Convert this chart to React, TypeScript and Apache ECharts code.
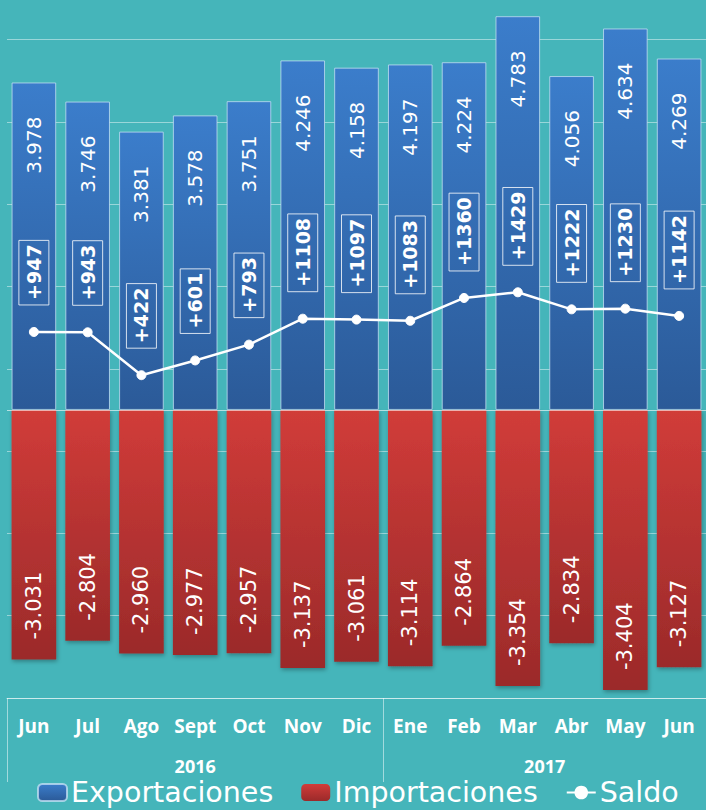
import React, { useEffect, useRef } from "react";
import * as echarts from "echarts";

const months = ["Jun", "Jul", "Ago", "Sept", "Oct", "Nov", "Dic", "Ene", "Feb", "Mar", "Abr", "May", "Jun"];
const years = ["2016", "2017"];
const yearSpans = [7, 6];
const exportaciones = [3978, 3746, 3381, 3578, 3751, 4246, 4158, 4197, 4224, 4783, 4056, 4634, 4269];
const importaciones = [-3031, -2804, -2960, -2977, -2957, -3137, -3061, -3114, -2864, -3354, -2834, -3404, -3127];
const saldo = [947, 943, 422, 601, 793, 1108, 1097, 1083, 1360, 1429, 1222, 1230, 1142];

const fmtThousands = (v: number) => {
  const s = Math.abs(v).toString();
  const t = s.replace(/\B(?=(\d{3})+(?!\d))/g, ".");
  return (v < 0 ? "-" : "") + t;
};

// year label centers / separators from spans
const yearBounds: number[] = [0];
yearSpans.forEach((s) => yearBounds.push(yearBounds[yearBounds.length - 1] + s));
const yearCenters = yearSpans.map((s, i) => yearBounds[i] + s / 2);

export default function App() {
  const ref = useRef<HTMLDivElement>(null);
  useEffect(() => {
    document.body.style.margin = "0";
    const chart = echarts.init(ref.current!, null, { renderer: "svg" });
    const lineLight = "rgba(255,255,255,0.5)";
    chart.setOption({
      animation: false,
      backgroundColor: "#45B5BA",
      textStyle: { fontFamily: "DejaVu Sans", color: "#fff" },
      grid: { left: 7, top: 0, width: 709, bottom: 112, containLabel: false },
      legend: {
        left: 37,
        top: 778,
        padding: 0,
        itemWidth: 29,
        itemHeight: 17,
        itemGap: 28,
        textStyle: { color: "#fff", fontSize: 28.5, lineHeight: 28, fontFamily: "DejaVu Sans", padding: [0, 0, 0, -1] },
        data: ["Exportaciones", "Importaciones", "Saldo"],
      },
      xAxis: [
        {
          type: "category",
          data: months,
          position: "bottom",
          axisLine: { show: false, onZero: false },
          axisTick: { show: false },
          axisLabel: {
            interval: 0,
            color: "#fff",
            fontFamily: "Open Sans",
            fontWeight: "bold",
            fontSize: 19,
            margin: 18,
          },
          splitLine: { show: false },
        },
        {
          type: "value",
          min: 0,
          max: months.length,
          position: "bottom",
          axisLine: { show: true, onZero: false, lineStyle: { color: lineLight, width: 1 } },
          axisTick: {
            show: true,
            customValues: yearBounds,
            length: 84,
            lineStyle: { color: lineLight, width: 1 },
          },
          axisLabel: {
            customValues: yearCenters,
            formatter: (v: number) => {
              const i = yearCenters.indexOf(v);
              return i >= 0 ? years[i] : "";
            },
            color: "#fff",
            fontFamily: "Open Sans",
            fontWeight: "bold",
            fontSize: 18,
            lineHeight: 18,
            margin: 59,
          },
          splitLine: { show: false },
        },
      ],
      yAxis: {
        type: "value",
        min: -3500,
        max: 4980,
        interval: 1000,
        axisLine: { show: false },
        axisTick: { show: false },
        axisLabel: { show: false },
        splitLine: {
          show: true,
          showMaxLine: false,
          lineStyle: { color: "rgba(255,255,255,0.45)", width: 1 },
        },
      },
      series: [
        {
          name: "Exportaciones",
          type: "bar",
          xAxisIndex: 0,
          data: exportaciones,
          barWidth: "83%",
          barGap: "-100%",
          itemStyle: {
            color: new echarts.graphic.LinearGradient(0, 0, 0, 1, [
              { offset: 0, color: "#3B7DCB" },
              { offset: 1, color: "#2B5A98" },
            ]),
            borderColor: "rgba(200,225,245,0.75)",
            borderWidth: 1,
          },
          label: {
            show: true,
            position: "insideTop",
            distance: 34,
            rotate: 90,
            align: "right",
            verticalAlign: "middle",
            color: "#fff",
            fontSize: 20,
            fontFamily: "DejaVu Sans",
            formatter: (p: any) => fmtThousands(p.value),
          },
          markLine: {
            silent: true,
            symbol: "none",
            label: { show: false },
            lineStyle: { color: "rgba(255,255,255,0.6)", width: 1, type: "solid" },
            data: [{ yAxis: 0 }],
          },
        },
        {
          name: "Importaciones",
          type: "bar",
          xAxisIndex: 0,
          data: importaciones,
          barWidth: "83%",
          barGap: "-100%",
          itemStyle: {
            color: new echarts.graphic.LinearGradient(0, 0, 0, 1, [
              { offset: 0, color: "#D13C39" },
              { offset: 1, color: "#9B2A2A" },
            ]),
            shadowColor: "rgba(0,0,0,0.3)",
            shadowBlur: 4,
            shadowOffsetX: 1,
            shadowOffsetY: 2,
          },
          label: {
            show: true,
            position: "insideBottom",
            distance: 20,
            rotate: 90,
            align: "left",
            verticalAlign: "middle",
            color: "#fff",
            fontSize: 21,
            fontFamily: "DejaVu Sans",
            formatter: (p: any) => fmtThousands(p.value),
          },
        },
        {
          name: "Saldo",
          type: "line",
          xAxisIndex: 0,
          data: saldo,
          symbol: "circle",
          symbolSize: 9,
          lineStyle: { color: "#fff", width: 2.5 },
          itemStyle: { color: "#fff", borderColor: "#fff" },
          z: 5,
          label: {
            show: true,
            position: "top",
            distance: 22,
            rotate: 90,
            align: "left",
            verticalAlign: "middle",
            color: "#fff",
            fontSize: 19,
            fontWeight: "bold",
            fontFamily: "DejaVu Sans",
            lineHeight: 20,
            padding: [5, 4, 5, 5],
            borderColor: "rgba(255,255,255,0.8)",
            borderWidth: 1,
            formatter: (p: any) => "+" + p.value,
          },
        },
      ],
    });
    return () => chart.dispose();
  }, []);
  return (
    <div
      ref={ref}
      style={{ position: "absolute", left: 0, top: 0, width: 706, height: 810, background: "#45B5BA" }}
    />
  );
}
